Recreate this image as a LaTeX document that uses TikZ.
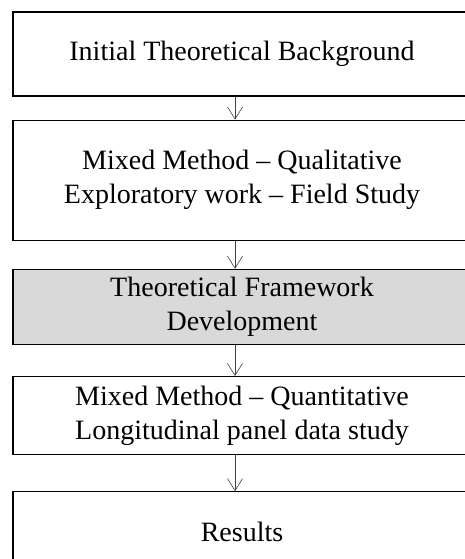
\documentclass[tikz,border=0pt]{standalone}
\usepackage{fontspec}
\setmainfont{Liberation Serif}
\usetikzlibrary{positioning,arrows.meta}
\definecolor{boxgray}{RGB}{217,217,217}

\begin{document}
\begin{tikzpicture}[x=1pt,y=1pt]
            \tikzstyle{stage box}=[draw,line width=1.2pt,minimum width=458pt,align=center,inner sep=0pt,font=\fontsize{28}{34}\selectfont]
            \tikzstyle{flow arrow}=[draw=black!75,line width=0.6pt,-{Straight Barb[length=12pt,width=15pt]}]
            \useasboundingbox (0,0) rectangle (465,-559);
            \clip (0,0) rectangle (465,-559);

            \node[stage box,minimum height=84pt] (bg) at (242,-54) {Initial Theoretical Background};
            \node[stage box,minimum height=120pt] (qual) [below=23pt of bg] {Mixed Method -- Qualitative\\Exploratory work -- Field Study};
            \node[stage box,minimum height=75pt,fill=boxgray] (frame) [below=28pt of qual] {Theoretical Framework\\Development};
            \node[stage box,minimum height=78pt] (quant) [below=31pt of frame] {Mixed Method -- Quantitative\\Longitudinal panel data study};
            \node[stage box,minimum height=80pt] (res) [below=36pt of quant] {Results};

            \draw[flow arrow] ([xshift=-7pt]bg.south) -- ([xshift=-7pt]qual.north);
            \draw[flow arrow] ([xshift=-7pt]qual.south) -- ([xshift=-7pt]frame.north);
            \draw[flow arrow] ([xshift=-7pt]frame.south) -- ([xshift=-7pt]quant.north);
            \draw[flow arrow] ([xshift=-7pt]quant.south) -- ([xshift=-7pt]res.north);
        \end{tikzpicture}
\end{document}
